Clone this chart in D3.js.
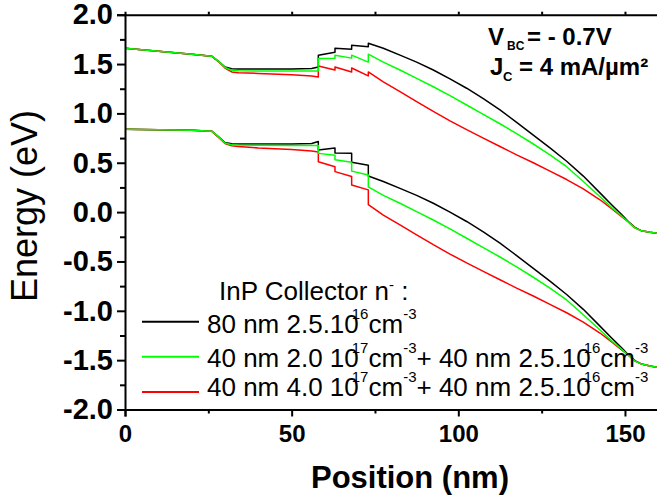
<!DOCTYPE html>
<html>
<head>
<meta charset="utf-8">
<script src="https://cdn.jsdelivr.net/npm/d3@7"></script>
<style>
  body { margin: 0; background: #fff; }
  svg { display: block; font-family: Arial, "Liberation Sans", sans-serif; }
  .axis path, .axis line { stroke: #000; stroke-width: 2; }
  .curve { fill: none; stroke-width: 1.5; stroke-linejoin: round; }
</style>
</head>
<body>
<div id="chart"></div>
<script>
// Position along the device (nm); repeated values are the abrupt steps
const positions = [0, 10, 20, 26, 28, 30, 32, 34, 40, 50, 56, 58, 58, 63, 63, 68, 68, 73, 73,
  77.5, 82.5, 87.5, 92.5, 97.5, 102.5, 107.5, 112.5, 117.5, 122.5, 127.5, 132.5, 137.5, 142.5,
  146, 149, 151, 153, 155, 157.5, 160];

// Conduction band (upper curves), eV
const cbBlack = [1.66, 1.63, 1.60, 1.58, 1.53, 1.47, 1.452, 1.45, 1.45, 1.45, 1.455, 1.47, 1.59, 1.62, 1.66, 1.65, 1.69, 1.675, 1.71,
  1.66, 1.59, 1.52, 1.44, 1.35, 1.255, 1.15, 1.035, 0.91, 0.78, 0.65, 0.515, 0.365, 0.195,
  0.075, -0.025, -0.095, -0.155, -0.19, -0.205, -0.215];
const cbGreen = [1.66, 1.63, 1.60, 1.58, 1.53, 1.465, 1.437, 1.432, 1.43, 1.43, 1.43, 1.43, 1.555, 1.56, 1.59, 1.56, 1.59, 1.52, 1.60,
  1.52, 1.44, 1.355, 1.27, 1.18, 1.085, 0.99, 0.895, 0.795, 0.69, 0.58, 0.46, 0.31, 0.155,
  0.045, -0.04, -0.10, -0.16, -0.19, -0.205, -0.215];
const cbRed = [1.66, 1.63, 1.60, 1.58, 1.525, 1.46, 1.42, 1.412, 1.405, 1.392, 1.378, 1.37, 1.48, 1.44, 1.47, 1.42, 1.46, 1.38, 1.42,
  1.32, 1.22, 1.12, 1.02, 0.925, 0.835, 0.75, 0.665, 0.58, 0.50, 0.415, 0.33, 0.235, 0.125,
  0.035, -0.045, -0.10, -0.16, -0.19, -0.205, -0.215];

// Valence band (lower curves), eV
const vbBlack = [0.84, 0.835, 0.83, 0.82, 0.765, 0.705, 0.692, 0.69, 0.69, 0.69, 0.695, 0.715, 0.63, 0.65, 0.60, 0.595, 0.505, 0.475, 0.365,
  0.31, 0.24, 0.17, 0.09, 0.0, -0.095, -0.20, -0.315, -0.44, -0.57, -0.70, -0.835, -0.985, -1.155,
  -1.275, -1.375, -1.445, -1.505, -1.54, -1.56, -1.575];
const vbGreen = [0.84, 0.835, 0.83, 0.82, 0.765, 0.70, 0.683, 0.68, 0.677, 0.675, 0.675, 0.675, 0.595, 0.575, 0.53, 0.505, 0.415, 0.375, 0.255,
  0.17, 0.09, 0.005, -0.08, -0.17, -0.265, -0.36, -0.455, -0.555, -0.66, -0.77, -0.89, -1.04, -1.195,
  -1.305, -1.39, -1.45, -1.51, -1.54, -1.56, -1.575];
const vbRed = [0.84, 0.835, 0.83, 0.82, 0.76, 0.695, 0.672, 0.665, 0.65, 0.635, 0.618, 0.61, 0.51, 0.46, 0.41, 0.36, 0.275, 0.225, 0.075,
  -0.03, -0.13, -0.23, -0.33, -0.425, -0.515, -0.60, -0.685, -0.77, -0.85, -0.935, -1.02, -1.115, -1.225,
  -1.315, -1.395, -1.45, -1.51, -1.54, -1.56, -1.575];

const yMajor = [-2, -1.5, -1, -0.5, 0, 0.5, 1, 1.5, 2];
const yMinor = [-1.75, -1.25, -0.75, -0.25, 0.25, 0.75, 1.25, 1.75];
const xMajor = [0, 50, 100, 150];
const xMinor = [25, 75, 125];
const xTop = [25, 50, 75, 100, 125, 150];

const seriesColors = ["#000000", "#00ff00", "#ff0000"];

// Set the dimensions and margins
const width = 657, height = 499;
const margin = {top: 14.7, right: -1.3, bottom: 89.5, left: 125};

const svg = d3.select("#chart")
    .append("svg")
    .attr("width", width)
    .attr("height", height);

const x = d3.scaleLinear().domain([0, 160]).range([margin.left, width - margin.right]);
const y = d3.scaleLinear().domain([-2, 2]).range([height - margin.bottom, margin.top]);

svg.append("clipPath").attr("id", "plot-clip")
    .append("rect")
    .attr("x", margin.left).attr("y", margin.top)
    .attr("width", width - margin.left).attr("height", height - margin.bottom - margin.top);

// Curves: black, then red, then green on top
const line = d3.line()
    .x((d, i) => x(positions[i]))
    .y(d => y(d));

const curves = [
  {values: cbBlack, color: seriesColors[0]},
  {values: vbBlack, color: seriesColors[0]},
  {values: cbRed, color: seriesColors[2]},
  {values: vbRed, color: seriesColors[2]},
  {values: cbGreen, color: seriesColors[1]},
  {values: vbGreen, color: seriesColors[1]}
];

svg.append("g")
    .attr("clip-path", "url(#plot-clip)")
    .selectAll("path")
    .data(curves)
    .enter()
    .append("path")
    .attr("class", "curve")
    .attr("stroke", d => d.color)
    .attr("d", d => line(d.values));

// Axes
const yAxis = svg.append("g")
    .attr("class", "axis")
    .attr("transform", `translate(${margin.left},0)`)
    .call(d3.axisLeft(y).tickValues(yMajor).tickSize(8).tickPadding(4).tickFormat(d => d.toFixed(1)));
yAxis.selectAll("text")
    .attr("fill", "#000")
    .style("font-size", "29px")
    .style("font-weight", "bold");

svg.append("g")
    .attr("class", "axis")
    .attr("transform", `translate(${margin.left},0)`)
    .call(d3.axisLeft(y).tickValues(yMinor).tickSize(5).tickFormat(""))
    .select(".domain").remove();

const xAxis = svg.append("g")
    .attr("class", "axis")
    .attr("transform", `translate(0,${y(-2)})`)
    .call(d3.axisBottom(x).tickValues(xMajor).tickSize(7).tickPadding(8).tickFormat(d3.format("d")));
xAxis.selectAll("text")
    .attr("fill", "#000")
    .style("font-size", "24px")
    .style("font-weight", "bold");

svg.append("g")
    .attr("class", "axis")
    .attr("transform", `translate(0,${y(-2)})`)
    .call(d3.axisBottom(x).tickValues(xMinor).tickSize(4).tickFormat(""))
    .select(".domain").remove();

svg.append("g")
    .attr("class", "axis")
    .attr("transform", `translate(0,${y(2)})`)
    .call(d3.axisTop(x).tickValues(xTop).tickSize(3).tickFormat(""));

// Axis titles
svg.append("text")
    .attr("transform", "translate(37,206) rotate(-90)")
    .attr("text-anchor", "middle")
    .style("font-size", "36px")
    .text("Energy (eV)");

svg.append("text")
    .attr("x", 410)
    .attr("y", 488)
    .attr("text-anchor", "middle")
    .style("font-size", "31px")
    .style("font-weight", "bold")
    .text("Position (nm)");

// Bias annotation
const note = svg.append("g").style("font-weight", "bold");
note.append("text").attr("x", 488).attr("y", 45).style("font-size", "24px").text("V");
note.append("text").attr("x", 507).attr("y", 50).style("font-size", "12px").text("BC");
note.append("text").attr("x", 527).attr("y", 45).style("font-size", "24px").text("= - 0.7V");
note.append("text").attr("x", 490).attr("y", 75).style("font-size", "24px").text("J");
note.append("text").attr("x", 503).attr("y", 81).style("font-size", "13px").text("C");
note.append("text").attr("x", 519).attr("y", 75).style("font-size", "24px").text("= 4 mA/\u00b5m\u00b2");

// Legend
const legendRows = [
  [["80 nm 2.5.10"], ["16", true], ["cm"], ["-3", true]],
  [["40 nm 2.0 10"], ["17", true], ["cm"], ["-3", true], ["+ 40 nm 2.5.10"], ["16", true], ["cm"], ["-3", true]],
  [["40 nm 4.0 10"], ["17", true], ["cm"], ["-3", true], ["+ 40 nm 2.5.10"], ["16", true], ["cm"], ["-3", true]]
];
const legendLineY = [321.7, 356.7, 392];
const legendTextY = [333, 367, 396];

const header = svg.append("text").attr("x", 219).attr("y", 300).style("font-size", "26px");
header.append("tspan").text("InP Collector n");
header.append("tspan").attr("dy", -10).style("font-size", "15px").text("-");
header.append("tspan").attr("dy", 10).text(" :");

legendRows.forEach((parts, i) => {
  svg.append("line")
      .attr("x1", 142).attr("x2", 199)
      .attr("y1", legendLineY[i]).attr("y2", legendLineY[i])
      .attr("stroke", seriesColors[i])
      .attr("stroke-width", 2);
  const t = svg.append("text")
      .attr("x", 207).attr("y", legendTextY[i])
      .style("font-size", "26px");
  let raised = false;
  parts.forEach(([s, sup]) => {
    const ts = t.append("tspan").text(s);
    if (sup && !raised) {
      ts.attr("dy", -14).style("font-size", "15px");
      if (s !== "-3") ts.attr("dx", -7);
      raised = true;
    } else if (!sup && raised) {
      ts.attr("dy", 14);
      raised = false;
    } else if (sup) {
      ts.style("font-size", "15px");
    }
  });
});
</script>
</body>
</html>
